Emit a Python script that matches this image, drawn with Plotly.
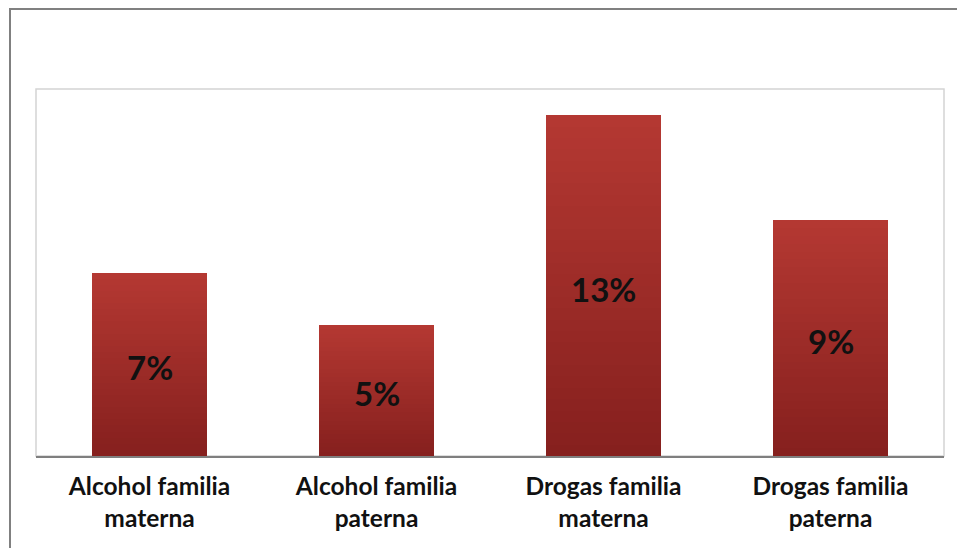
import plotly.graph_objects as go

categories = ["<b>Alcohol familia<br>materna</b>", "<b>Alcohol familia<br>paterna</b>",
              "<b>Drogas familia<br>materna</b>", "<b>Drogas familia<br>paterna</b>"]
values = [7, 5, 13, 9]
labels = ["7%", "5%", "13%", "9%"]

N = 30
top_rgb = (180, 56, 50)
bot_rgb = (134, 32, 30)

fig = go.Figure()
for k in range(N):
    t = k / (N - 1)  # 0 bottom, 1 top
    r = round(bot_rgb[0] + (top_rgb[0] - bot_rgb[0]) * t)
    g = round(bot_rgb[1] + (top_rgb[1] - bot_rgb[1]) * t)
    b = round(bot_rgb[2] + (top_rgb[2] - bot_rgb[2]) * t)
    fig.add_trace(go.Bar(
        x=categories, y=[v / N for v in values],
        marker=dict(color=f"rgb({r},{g},{b})", line=dict(width=0)),
        width=0.51, hoverinfo="skip", showlegend=False,
    ))

for c, v, lab in zip(categories, values, labels):
    fig.add_annotation(x=c, y=v / 2, text=f"<b>{lab}</b>", showarrow=False,
                       yshift=-3,
                       font=dict(family="Lato, Arial", size=33, color="#111111"))

W, H = 957, 548
L, R, T, B = 36, 13, 89, 92
pw, ph = W - L - R, H - T - B

fig.add_shape(type="rect", xref="paper", yref="paper", x0=0, x1=1, y0=0, y1=1,
              line=dict(color="#D4D4D4", width=1.5), layer="below")
x_out = (10 - L) / pw
y_out = 1 + (T - 9) / ph
fig.add_shape(type="path", xref="paper", yref="paper",
              path=f"M {x_out},-1 L {x_out},{y_out} L 1.2,{y_out}",
              line=dict(color="#808080", width=2))

fig.update_layout(
    barmode="stack", bargap=0.49,
    width=W, height=H,
    margin=dict(l=L, r=R, t=T, b=B),
    paper_bgcolor="white", plot_bgcolor="white",
    font=dict(family="Lato, Arial", color="#111111"),
    xaxis=dict(showline=True, linecolor="#7F7F7F", linewidth=2, ticks="",
               tickfont=dict(size=24.5, family="Lato, Arial", color="#111111"),
               showgrid=False),
    yaxis=dict(range=[0, 14], visible=False, showgrid=False),
)
fig.update_xaxes(ticklabelstandoff=8)
fig.write_html("out.html")
